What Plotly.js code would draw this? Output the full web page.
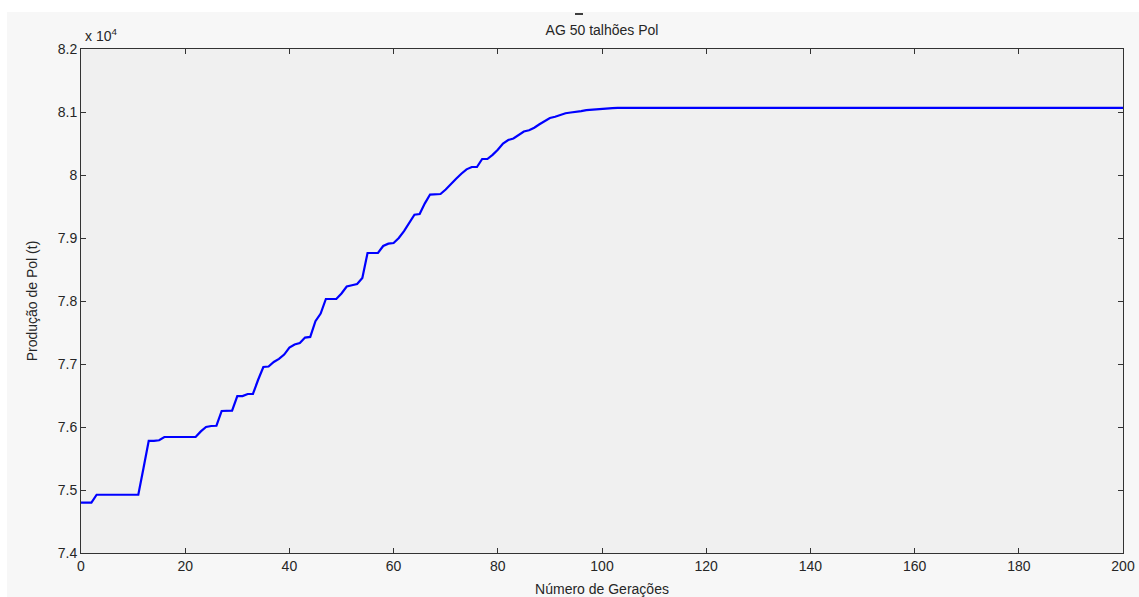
<!DOCTYPE html>
<html>
<head>
<meta charset="utf-8">
<script src="https://cdn.plot.ly/plotly-3.0.1.min.js"></script>
<style>
html,body{margin:0;padding:0;background:#ffffff;}
#chart{position:absolute;left:7px;top:12px;width:1132px;height:585px;}
</style>
</head>
<body>
<div id="chart"></div>
<script>
// Best fitness per generation (Produção de Pol, t)
const generations = [];
for (let g = 0; g <= 200; g++) generations.push(g);

const polEarly = [
  74800, 74800, 74800, 74925, 74925, 74925, 74925, 74925, 74925, 74925,
  74925, 74925, 75350, 75780, 75780, 75790, 75841, 75841, 75841, 75841,
  75841, 75841, 75841, 75930, 76000, 76016, 76020, 76254, 76254, 76260,
  76490, 76490, 76524, 76524, 76750, 76952, 76960, 77032, 77080, 77150,
  77260, 77310, 77333, 77420, 77430, 77680, 77800, 78032, 78032, 78032,
  78120, 78230, 78250, 78270, 78365, 78762, 78762, 78762, 78873, 78910,
  78921, 79000, 79110, 79250, 79370, 79381, 79550, 79690, 79690, 79698,
  79770, 79860, 79940, 80020, 80090, 80127, 80127, 80254, 80254, 80320,
  80400, 80500, 80556, 80580, 80630, 80690, 80710, 80750, 80805, 80860,
  80905, 80925, 80950, 80980, 80992, 81000, 81015, 81030, 81038, 81045,
  81048, 81055, 81060
];
const polPlateau = 81064;
const polValues = generations.map(g => g < polEarly.length ? polEarly[g] : polPlateau);

const xTickVals = [0, 20, 40, 60, 80, 100, 120, 140, 160, 180, 200];
const yTickVals = [74000, 75000, 76000, 77000, 78000, 79000, 80000, 81000, 82000];
const yTickText = ["7.4", "7.5", "7.6", "7.7", "7.8", "7.9", "8", "8.1", "8.2"];

const titleText = "AG 50 talhões Pol";
const xTitle = "Número de Gerações";
const yTitle = "Produção de Pol (t)";

const fontFam = "Liberation Sans, Arial, sans-serif";
const txtColor = "#262626";

Plotly.newPlot("chart", [{
  x: generations,
  y: polValues,
  type: "scatter",
  mode: "lines",
  line: {color: "#0000ff", width: 2.2},
  hoverinfo: "skip"
}], {
  width: 1132,
  height: 585,
  paper_bgcolor: "#f7f7f7",
  plot_bgcolor: "#f0f0f0",
  showlegend: false,
  margin: {l: 74, r: 16, t: 37, b: 44},
  font: {family: fontFam, size: 14, color: txtColor},
  title: {
    text: titleText,
    font: {family: fontFam, size: 14, color: txtColor},
    x: 0.5, xref: "paper", xanchor: "center",
    y: 1 - 18/585, yref: "container", yanchor: "middle"
  },
  xaxis: {
    range: [0, 200],
    tickvals: xTickVals,
    ticks: "inside",
    ticklen: 5,
    tickcolor: "#333333",
    showline: true,
    linecolor: "#333333",
    linewidth: 1,
    mirror: "ticks",
    showgrid: false,
    zeroline: false,
    tickfont: {size: 14},
    title: {text: xTitle, font: {size: 14}, standoff: 11},
    automargin: false
  },
  yaxis: {
    range: [74000, 82000],
    tickvals: yTickVals,
    ticktext: yTickText,
    ticks: "inside",
    ticklen: 5,
    tickcolor: "#333333",
    showline: true,
    linecolor: "#333333",
    linewidth: 1,
    mirror: "ticks",
    showgrid: false,
    zeroline: false,
    tickfont: {size: 14},
    title: {text: yTitle, font: {size: 14}, standoff: 16},
    automargin: false
  },
  annotations: [{
    text: "x 10<sup>4</sup>",
    xref: "paper", yref: "paper",
    x: 0.002, y: 1.005,
    xanchor: "left", yanchor: "bottom",
    showarrow: false,
    font: {family: fontFam, size: 14, color: txtColor}
  }],
  shapes: [{
    type: "line", xref: "paper", yref: "paper",
    x0: (575-81)/1042, x1: (583-81)/1042,
    y0: 1 + 35/504, y1: 1 + 35/504,
    line: {color: "#000000", width: 1.5}
  }]
}, {displayModeBar: false, staticPlot: true});
</script>
</body>
</html>
